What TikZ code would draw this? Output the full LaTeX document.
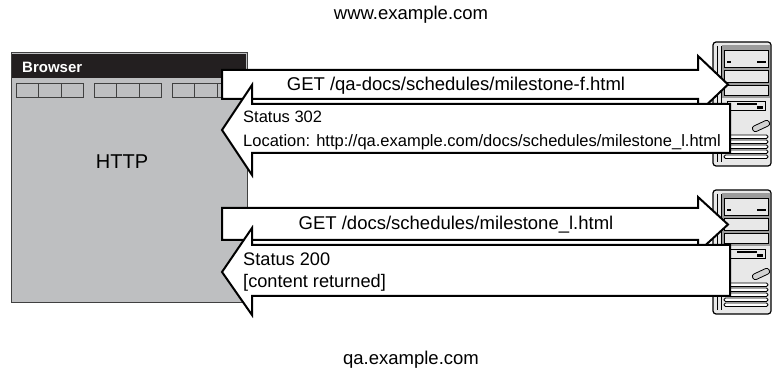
\documentclass[tikz,border=0pt]{standalone}
\usepackage{fontspec}
\setmainfont{Liberation Sans}

\definecolor{winfill}{HTML}{BEBFC1}
\definecolor{barfill}{HTML}{231F20}
\definecolor{caseface}{HTML}{E8E8E8}
\definecolor{bayfill}{HTML}{D2D2D2}
\definecolor{bezel}{HTML}{9C9C9C}

\tikzset{
  blockarrow/.style={draw=black, line width=2pt, fill=white, line join=miter},
  getlabel/.style={font=\fontsize{18.5}{22}\selectfont, inner sep=0pt, anchor=base},
  hostlabel/.style={font=\fontsize{18.5}{22}\selectfont, inner sep=0pt, anchor=base},
  tower/.pic={
    % case
    \draw[line width=1.2pt, rounded corners=3pt, fill=caseface] (0,0) rectangle (58,124);
    \draw[line width=0.6pt] (4,4) -- (4,120) (8,4) -- (8,120);
    % drive bays
    \fill[bezel] (9,3) rectangle (57,56);
    \draw[line width=0.8pt, fill=caseface] (11,8) rectangle (55,25);
    \fill[black] (14,19) rectangle (18,21);
    \fill[black] (44,19) rectangle (53,21);
    \draw[line width=0.8pt, fill=caseface] (11,28) rectangle (55,40);
    \draw[line width=0.8pt, fill=caseface] (11,43) rectangle (55,53);
    % floppy
    \draw[line width=0.8pt] (14,59) rectangle (52,68);
    \fill[black] (24,61.5) rectangle (44,63);
    \fill[black] (44,64) rectangle (50,67);
    % badge
    \draw[line width=0.8pt, fill=bayfill, rounded corners=2.5pt, rotate around={25:(48,84)}] (39,81) rectangle (57,87);
    % vents
    \foreach \v in {93,98,...,113}
      \draw[line width=0.8pt, fill=white, rounded corners=1.5pt] (11,\v) rectangle (55,\v+3.5);
  }
}

\begin{document}
\begin{tikzpicture}[x=1pt, y=-1pt]
  \useasboundingbox (0,0) rectangle (772,371);

  % browser window
  \draw[draw=black!75, line width=1pt, fill=winfill] (11,53) rectangle (247,303);
  \fill[barfill] (12,54) rectangle (246,78);
  \node[anchor=base west, inner sep=0pt, text=white, font=\bfseries\fontsize{15}{18}\selectfont] (title) at (22,73) {Browser};
  \foreach \g in {16,94,172}
    \foreach \i in {0,1,2}
      \draw[draw=black!75, line width=0.8pt] (\g+\i*22.6,83) rectangle ++(22.6,14);
  \node[anchor=base, inner sep=0pt, font=\fontsize{20}{24}\selectfont] (http) at (122,169) {HTTP};

  % servers
  \pic (srvA) at (713,42) {tower};
  \pic (srvB) at (713,190) {tower};

  % first request and redirect
  \draw[blockarrow] (222,70) -- (698,70) -- (698,56) -- (728,84.5) -- (698,113) -- (698,99) -- (222,99) -- cycle;
  \node[getlabel] (get1) at (456,91) {GET /qa-docs/schedules/milestone-f.html};
  \draw[blockarrow] (730,104) -- (252,104) -- (252,85) -- (222,130) -- (252,175) -- (252,153) -- (730,153) -- cycle;
  \node[anchor=base west, inner sep=0pt, font=\fontsize{16.5}{20}\selectfont] (st302) at (243,123) {Status 302};
  \node[anchor=base west, inner sep=0pt, font=\fontsize{16.5}{20}\selectfont] (loc) at (243,147) {Location: http://qa.example.com/docs/schedules/milestone\_l.html};

  % second request and content
  \draw[blockarrow] (222,208) -- (698,208) -- (698,197) -- (728,224.5) -- (698,252) -- (698,240) -- (222,240) -- cycle;
  \node[getlabel] (get2) at (456,230) {GET /docs/schedules/milestone\_l.html};
  \draw[blockarrow] (730,245) -- (252,245) -- (252,228) -- (222,272) -- (252,315) -- (252,296) -- (730,296) -- cycle;
  \node[anchor=base west, inner sep=0pt, font=\fontsize{18.2}{22}\selectfont] (st200) at (243,266) {Status 200};
  \node[anchor=base west, inner sep=0pt, font=\fontsize{18.2}{22}\selectfont] (body) at (243,288) {[content returned]};

  % host names
  \node[hostlabel] (wwwhost) at (411,20) {www.example.com};
  \node[hostlabel] (qahost) at (411,365) {qa.example.com};
\end{tikzpicture}
\end{document}
